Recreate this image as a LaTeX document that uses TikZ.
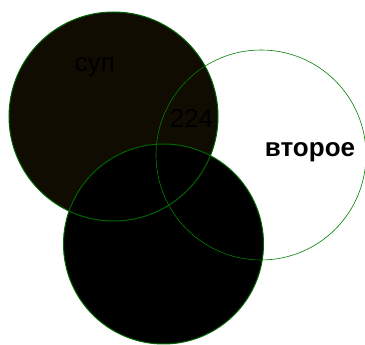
\documentclass[tikz,border=0pt]{standalone}
\usepackage{fontspec}
\setmainfont{Liberation Sans}
\definecolor{soupfill}{HTML}{100C02}
\definecolor{rimdark}{HTML}{006400}
\definecolor{rimlight}{HTML}{008000}
\tikzset{
  disc/.style={circle, inner sep=0pt, draw=none},
  label26/.style={font=\fontsize{26}{28}\selectfont, text=black, inner sep=0pt, anchor=base}
}
\begin{document}
\begin{tikzpicture}[x=1pt,y=1pt]
\useasboundingbox[fill=white] (0,0) rectangle (365,345);
% fills
\node[disc, fill=soupfill, minimum size=209pt] (c1) at (113.5,228.5) {};
\node[disc, minimum size=210pt] (c2) at (261,190) {};
\node[disc, fill=black, minimum size=200pt] (c3) at (163.5,101) {};
% outlines
\draw[rimlight, line width=0.6pt] (c2.center) circle[radius=105];
\draw[rimdark, line width=1pt] (c1.center) circle[radius=104.5];
\draw[rimdark, line width=1pt] (c3.center) circle[radius=100];
% labels
\node[label26] (t1) at (95,273) {суп};
\node[label26] (t2) at (191.5,217) {224};
\node[label26, font=\fontsize{26}{28}\selectfont\bfseries] (t3) at (310,188) {второе};
\end{tikzpicture}
\end{document}
